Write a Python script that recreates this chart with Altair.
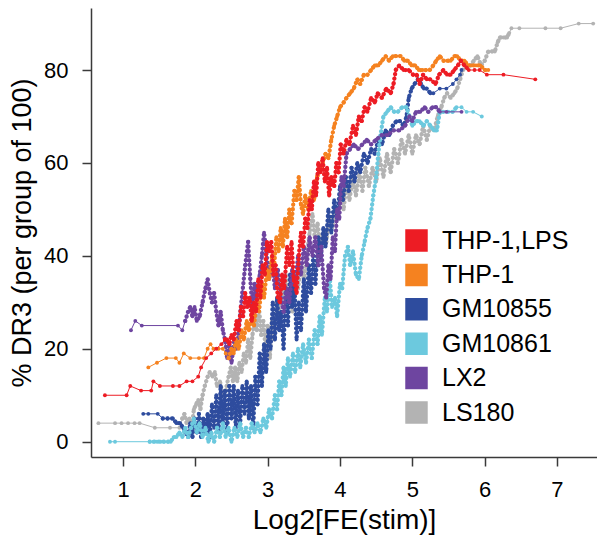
import altair as alt
import pandas as pd

FONT = "Liberation Sans"

SERIES = ["THP-1,LPS", "THP-1", "GM10855", "GM10861", "LX2", "LS180"]
COLORS = ["#ED1C24", "#F58220", "#2E4C9E", "#6CC9DE", "#6E45A0", "#B3B3B3"]
DRAW_ORDER = ["LS180", "GM10855", "GM10861", "LX2", "THP-1", "THP-1,LPS"]

X_TICKS = [1, 2, 3, 4, 5, 6, 7]
Y_TICKS = [0, 20, 40, 60, 80]

RED = [(0.75,10),(1.05,10),(1.10,12),(1.25,11),(1.39,11),(1.42,13),(1.51,12),(1.69,12),(1.78,12),(1.88,13),(1.96,13),(2.04,14),(2.08,16),(2.15,18),(2.22,19),(2.29,20),(2.36,21),(2.41,22),
(2.44,22),(2.47,21),(2.50,23),(2.53,22),(2.57,26),(2.60,24),(2.63,29),(2.66,27),(2.69,32),(2.72,29),(2.75,31),(2.78,26),(2.81,30),(2.84,28),(2.87,35),(2.90,31),(2.93,38),(2.96,36),(2.99,43),(3.02,41),(3.05,43),(3.08,36),(3.11,38),(3.14,31),(3.17,30),(3.20,36),(3.23,33),(3.27,42),(3.30,38),(3.33,43),(3.36,35),(3.40,32),(3.43,40),(3.46,45),(3.49,42),(3.52,48),(3.55,46),(3.58,52),(3.61,50),(3.64,56),(3.67,53),(3.70,60),(3.73,58),(3.76,61),(3.79,56),(3.82,59),(3.85,53),(3.88,57),(3.92,55),(3.95,60),(3.98,58),(4.01,64),(4.05,62),(4.09,65),(4.13,64),(4.18,68),(4.22,66),(4.26,70),(4.30,69),(4.34,72),(4.38,71),(4.43,74),(4.48,73),(4.52,75),(4.58,74),(4.64,76),(4.70,75),(4.74,77),(4.77,80),(4.82,81),(4.88,80),(4.95,80),(5.01,79),(5.06,79),(5.10,77),(5.15,79),(5.20,78),(5.25,78),(5.32,77),(5.37,79),(5.43,80),(5.48,79),(5.53,79),(5.58,80),(5.63,81),(5.67,82),(5.72,81),(5.78,80),
(5.86,80),(5.93,80),(6.03,79),(6.26,79),(6.70,78)]

ORANGE = [(1.35,16),(1.47,17),(1.60,18),(1.73,18),(1.78,17),(1.84,19),(1.93,18),(2.05,18),(2.12,18),(2.17,20),(2.21,21),(2.25,20),(2.32,20),(2.38,20),(2.42,19),(2.46,18),
(2.50,20),(2.53,19),(2.56,22),(2.60,20),(2.64,24),(2.67,22),(2.71,26),(2.74,24),(2.78,27),(2.81,25),(2.85,30),(2.88,28),(2.92,34),(2.95,31),(2.99,37),(3.02,35),(3.06,40),(3.09,38),(3.12,44),(3.15,41),(3.18,46),(3.21,42),(3.24,48),(3.27,44),(3.30,50),(3.33,47),(3.37,54),(3.40,52),(3.43,57),(3.46,51),(3.49,49),(3.52,53),(3.56,50),(3.60,54),(3.64,52),(3.68,57),(3.72,58),(3.76,60),(3.80,62),(3.84,61),(3.88,65),(3.92,68),(3.96,70),(4.00,72),(4.05,73),(4.09,74),(4.14,75),(4.19,76),(4.24,78),(4.28,77),(4.33,79),(4.38,79),(4.43,80),(4.48,81),(4.53,81),(4.58,82),(4.63,83),(4.68,82),(4.73,83),(4.78,83),(4.84,83),(4.89,82),(4.94,82),(4.99,81),(5.04,81),(5.09,80),(5.14,80),(5.19,80),(5.24,80),(5.29,81),(5.33,82),(5.38,83),(5.43,82),(5.48,82),(5.53,82),(5.58,83),(5.62,83),(5.67,82),(5.72,82),(5.77,81),(5.82,81),(5.88,81),(5.94,81),(6.00,80),(6.05,80)]

BLUE = [(1.28,6),(1.35,6),(1.48,6),(1.55,5),(1.62,5),(1.69,5),(1.74,4),(1.79,4),(1.83,3),(1.87,2),
(1.90,1),(1.93,4),(1.96,1),(1.99,5),(2.02,2),(2.05,6),(2.08,1),(2.11,5),(2.14,2),(2.17,6),(2.20,1),(2.23,8),(2.26,3),(2.29,10),(2.32,2),(2.35,12),(2.38,4),(2.41,11),(2.44,2),(2.47,12),(2.50,5),(2.53,12),(2.56,3),(2.59,11),(2.62,4),(2.65,12),(2.68,6),(2.71,13),(2.74,5),(2.77,12),(2.80,3),(2.83,14),(2.86,8),(2.89,19),(2.92,12),(2.95,21),(2.98,15),(3.01,24),(3.04,20),(3.07,30),(3.10,22),(3.13,31),(3.16,24),(3.19,28),(3.22,20),(3.25,33),(3.28,25),(3.31,36),(3.34,29),(3.37,34),(3.40,22),(3.43,30),(3.46,24),(3.50,35),(3.53,28),(3.57,38),(3.60,32),(3.63,40),(3.66,34),(3.70,44),(3.73,39),(3.77,46),(3.80,42),(3.84,50),(3.88,45),(3.92,52),(3.96,48),(4.00,55),(4.04,52),(4.08,57),(4.12,54),(4.16,59),(4.20,56),(4.24,60),(4.28,58),(4.33,62),(4.38,60),(4.43,63),(4.48,62),(4.53,65),(4.58,64),(4.63,67),(4.68,66),(4.73,68),(4.78,69),(4.83,69),(4.88,68),(4.92,70),(4.95,74),(4.99,76),(5.03,77),(5.08,78),(5.12,77),(5.16,76),(5.20,76),(5.25,75),
(5.29,75),(5.38,76),(5.47,76),(5.56,77),(5.61,78),(5.66,79),(5.68,80)]

CYAN = [(0.82,0),(0.89,0),(1.37,0),(1.42,0),(1.47,0),(1.52,0),(1.57,0),(1.62,0),(1.66,0),(1.70,1),
(1.74,1),(1.78,2),(1.82,1),(1.86,3),(1.90,1),(1.94,3),(1.98,5),(2.02,2),(2.06,4),(2.10,1),(2.14,3),(2.18,0),(2.22,2),(2.26,0),(2.30,3),(2.34,1),(2.38,4),(2.42,1),(2.46,3),(2.50,0),(2.54,3),(2.58,1),(2.62,4),(2.66,1),(2.70,3),(2.74,1),(2.78,4),(2.82,2),(2.86,4),(2.90,2),(2.94,5),(2.98,3),(3.02,7),(3.06,5),(3.10,10),(3.13,7),(3.16,13),(3.19,10),(3.22,16),(3.25,12),(3.28,18),(3.31,14),(3.35,19),(3.38,15),(3.42,20),(3.45,16),(3.49,21),(3.53,17),(3.57,22),(3.61,18),(3.65,24),(3.69,21),(3.72,27),(3.75,23),(3.79,31),(3.82,28),(3.86,35),(3.89,29),(3.93,31),(3.96,27),(4.00,34),(4.03,33),(4.07,40),(4.11,42),(4.14,38),(4.18,41),(4.22,36),(4.26,35),(4.30,40),(4.34,43),(4.38,46),(4.42,48),(4.46,53),(4.50,57),(4.53,62),(4.56,66),(4.60,70),(4.65,71),(4.70,72),(4.75,71),(4.80,71),(4.86,72),(4.92,72),(4.96,70),(5.00,68),(5.05,69),(5.10,69),(5.15,68),(5.20,69),(5.25,68),(5.30,67),(5.34,67),(5.38,71),(5.43,71),(5.50,71),(5.56,71),(5.61,72),
(5.68,72),(5.75,71),(5.84,71),(5.96,70)]

PURPLE = [(1.11,24),(1.17,26),(1.26,25),(1.76,25),(1.82,24),
(1.86,26),(1.90,28),(1.93,29),(1.96,27),(1.99,29),(2.02,26),(2.06,27),(2.10,30),(2.14,33),(2.17,35),(2.20,32),(2.23,30),(2.26,32),(2.29,28),(2.32,25),(2.35,28),(2.38,24),(2.41,22),(2.44,18),(2.47,21),(2.50,17),(2.54,22),(2.57,20),(2.61,26),(2.65,32),(2.69,38),(2.73,43),(2.76,35),(2.79,28),(2.82,34),(2.85,30),(2.89,36),(2.92,40),(2.95,45),(2.98,41),(3.02,35),(3.06,39),(3.10,33),(3.14,37),(3.18,31),(3.22,28),(3.26,33),(3.30,30),(3.34,37),(3.38,34),(3.42,40),(3.46,36),(3.50,42),(3.54,38),(3.58,44),(3.62,40),(3.66,44),(3.70,38),(3.74,42),(3.78,33),(3.81,31),(3.84,38),(3.87,35),(3.90,44),(3.93,41),(3.96,50),(3.99,48),(4.02,57),(4.05,55),(4.09,62),(4.14,63),(4.19,64),(4.25,63),(4.31,64),(4.37,65),(4.43,64),(4.50,65),(4.58,66),(4.66,66),(4.74,67),(4.82,67),(4.90,68),(4.96,70),(5.00,69),(5.05,71),(5.11,71),(5.17,72),(5.22,71),(5.28,72),(5.33,72),(5.38,71),
(5.47,71),(5.68,71)]

GRAY = [(0.66,4),(0.89,4),(0.98,4),(1.07,4),(1.16,4),(1.23,4),(1.44,3),(1.65,3),(1.78,3),
(1.82,5),(1.85,6),(1.88,4),(1.92,5),(1.95,3),(1.98,7),(2.01,8),(2.04,9),(2.07,7),(2.10,10),(2.13,12),(2.17,14),(2.20,15),(2.24,14),(2.27,15),(2.30,12),(2.34,13),(2.38,10),(2.42,11),(2.46,14),(2.49,16),(2.52,13),(2.55,16),(2.58,13),(2.61,17),(2.64,15),(2.67,19),(2.70,17),(2.73,22),(2.76,18),(2.79,23),(2.82,27),(2.85,24),(2.88,29),(2.91,23),(2.94,26),(2.97,20),(3.00,25),(3.03,18),(3.06,26),(3.09,22),(3.12,30),(3.15,27),(3.18,33),(3.21,29),(3.25,36),(3.28,30),(3.31,33),(3.34,28),(3.38,35),(3.42,33),(3.46,38),(3.50,35),(3.54,40),(3.58,45),(3.62,49),(3.65,44),(3.69,47),(3.73,42),(3.77,45),(3.81,43),(3.85,48),(3.89,46),(3.93,50),(3.97,48),(4.01,53),(4.05,50),(4.09,56),(4.13,52),(4.18,57),(4.22,53),(4.27,58),(4.31,54),(4.35,59),(4.40,55),(4.45,59),(4.50,56),(4.55,61),(4.60,57),(4.65,62),(4.70,58),(4.75,63),(4.80,60),(4.85,65),(4.90,62),(4.95,66),(5.00,62),(5.05,66),(5.10,64),(5.15,68),(5.20,65),(5.25,68),(5.30,67),(5.35,70),(5.40,72),(5.44,74),(5.48,75),(5.53,74),(5.58,75),(5.62,76),(5.66,78),(5.70,80),(5.75,81),(5.80,81),(5.85,82),(5.90,83),(5.95,81),(6.00,82),(6.05,84),(6.10,84),(6.14,84),(6.18,86),(6.21,87),(6.26,87),(6.31,87),(6.34,88),
(6.37,89),(6.48,89),(6.84,89),(7.05,89),(7.30,90),(7.50,90)]

POINTS = {"THP-1,LPS": RED, "THP-1": ORANGE, "GM10855": BLUE,
          "GM10861": CYAN, "LX2": PURPLE, "LS180": GRAY}
# x-range in which each series' groups are packed densely
DENSE = {"THP-1,LPS": (2.41, 5.80), "THP-1": (2.46, 6.05), "GM10855": (1.55, 5.25),
         "GM10861": (1.37, 5.61), "LX2": (1.86, 5.38), "LS180": (1.82, 6.34)}


def frame(name):
    df = pd.DataFrame(POINTS[name], columns=["x", "y"])
    df["series"] = name
    df["i"] = range(len(df))
    lo, hi = DENSE[name]
    df["dense"] = (df["x"] >= lo) & (df["x"] <= hi)
    return df


xs = alt.Scale(domain=[0.5576, 7.553], nice=False, zero=False)
ys = alt.Scale(domain=[-3.29, 93.35], nice=False, zero=False)
cs = alt.Scale(domain=SERIES, range=COLORS)

xaxis = alt.Axis(values=X_TICKS, title="Log2[FE(stim)]", labelPadding=13, titlePadding=6,
                 format="d", labelFlush=False)
yaxis = alt.Axis(values=Y_TICKS, title="% DR3 (per group of 100)", labelPadding=14,
                 titlePadding=7, format="d", titleFontSize=27)

legend = alt.Legend(orient="none", legendX=313, legendY=220, title=None,
                    symbolType="square", symbolSize=440, symbolOpacity=1,
                    labelFontSize=25, labelFont=FONT, labelColor="#000000",
                    labelOffset=13, rowPadding=7.4, labelLimit=300)

layers = []
for name in DRAW_ORDER:
    d = frame(name)
    base = alt.Chart(d).encode(
        x=alt.X("x:Q", scale=xs, axis=xaxis),
        y=alt.Y("y:Q", scale=ys, axis=yaxis),
        color=alt.Color("series:N", scale=cs, legend=legend),
        order="i:Q",
    )
    thin = base.mark_line(strokeWidth=1)
    dotted = base.transform_filter("datum.dense").mark_line(
        strokeWidth=4.3, strokeDash=[0.01, 4.6], strokeCap="round")
    pts = base.mark_point(size=15, filled=True, opacity=1, shape="circle")
    layers += [thin, dotted, pts]

chart = alt.layer(*layers).properties(
    width=506, height=449,
    autosize=alt.AutoSizeParams(type="none"),
    padding={"left": 83, "top": 0, "right": 0, "bottom": 84},
).configure_view(stroke=None).configure_axis(
    domainColor="#3a3a3a", domainWidth=1.5, tickColor="#3a3a3a", tickWidth=1.5,
    tickSize=9, labelFontSize=22, labelFont=FONT, labelColor="#000000",
    titleFont=FONT, titleFontSize=28, titleFontWeight="normal", titleColor="#000000",
    grid=False,
)

chart.save("out.html", embed_options={"renderer": "svg", "actions": False})
